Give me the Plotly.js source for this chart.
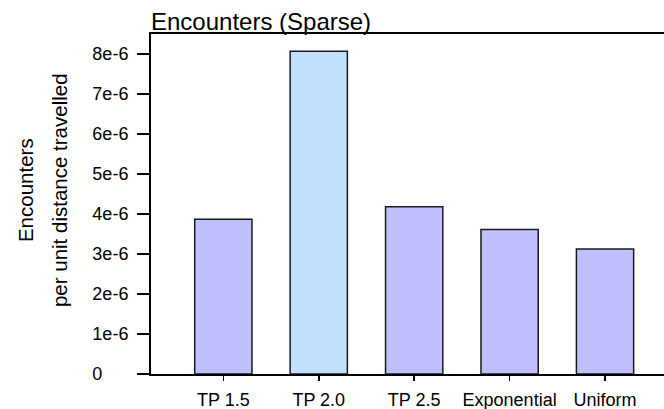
<!DOCTYPE html>
<html>
<head>
<meta charset="utf-8">
<script src="https://cdn.plot.ly/plotly-3.0.1.min.js"></script>
<style>html,body{margin:0;padding:0;background:#fff;}#chart{width:664px;height:409px;}</style>
</head>
<body>
<div id="chart"></div>
<script>
const categories = ["TP 1.5", "TP 2.0", "TP 2.5", "Exponential", "Uniform"];
const encounters = [3.87e-6, 8.07e-6, 4.18e-6, 3.61e-6, 3.125e-6];
const barColors = ["#C0C0FF", "#C0E0FF", "#C0C0FF", "#C0C0FF", "#C0C0FF"];
const yTickVals = [0, 1e-6, 2e-6, 3e-6, 4e-6, 5e-6, 6e-6, 7e-6, 8e-6];
const yTickText = ["0\u2007\u2007\u2004", "1e-6", "2e-6", "3e-6", "4e-6", "5e-6", "6e-6", "7e-6", "8e-6"];
const titleText = "Encounters (Sparse)";
const yTitleLines = ["Encounters", "per unit distance travelled"];

const FONT = "Liberation Sans, Arial, Helvetica, sans-serif";

const trace = {
  type: "bar",
  x: categories.map((c, i) => i),
  y: encounters,
  width: 0.6,
  marker: { color: barColors, line: { color: "#1a1a1a", width: 1.5 } },
  hoverinfo: "skip"
};

const layout = {
  width: 664, height: 409,
  margin: { l: 151, r: 0, t: 34, b: 35, pad: 0 },
  paper_bgcolor: "#fff", plot_bgcolor: "#fff",
  showlegend: false,
  font: { family: FONT, color: "#000", size: 18 },
  title: {
    text: titleText,
    font: { family: FONT, size: 24, color: "#000" },
    xref: "paper", x: 0, xanchor: "left",
    yref: "container", y: 1 - 30 / 409, yanchor: "bottom"
  },
  xaxis: {
    range: [-0.758, 4.618],
    tickmode: "array",
    tickvals: categories.map((c, i) => i),
    ticktext: categories,
    ticks: "outside", ticklen: 5, tickwidth: 1.5, tickcolor: "#000",
    ticklabelstandoff: 3,
    showline: true, linecolor: "#000", linewidth: 2, mirror: true,
    showgrid: false, zeroline: false,
    tickfont: { family: FONT, size: 18, color: "#000" },
    fixedrange: true
  },
  yaxis: {
    range: [0, 8.5e-6],
    tickmode: "array",
    tickvals: yTickVals,
    ticktext: yTickText,
    ticks: "outside", ticklen: 12, tickwidth: 1.5, tickcolor: "#000",
    ticklabelstandoff: 5,
    showline: true, linecolor: "#000", linewidth: 2,
    showgrid: false, zeroline: false,
    tickfont: { family: FONT, size: 18, color: "#000" },
    fixedrange: true
  },
  annotations: [
    { text: yTitleLines[0], textangle: -90, xref: "paper", yref: "paper",
      x: 0, xshift: 25 - 151, y: 0.541, xanchor: "center", yanchor: "middle",
      showarrow: false, font: { family: FONT, size: 20.5, color: "#000" } },
    { text: yTitleLines[1], textangle: -90, xref: "paper", yref: "paper",
      x: 0, xshift: 59 - 151, y: 0.541, xanchor: "center", yanchor: "middle",
      showarrow: false, font: { family: FONT, size: 20.5, color: "#000" } }
  ]
};

Plotly.newPlot("chart", [trace], layout, { staticPlot: true, displayModeBar: false });
</script>
</body>
</html>
